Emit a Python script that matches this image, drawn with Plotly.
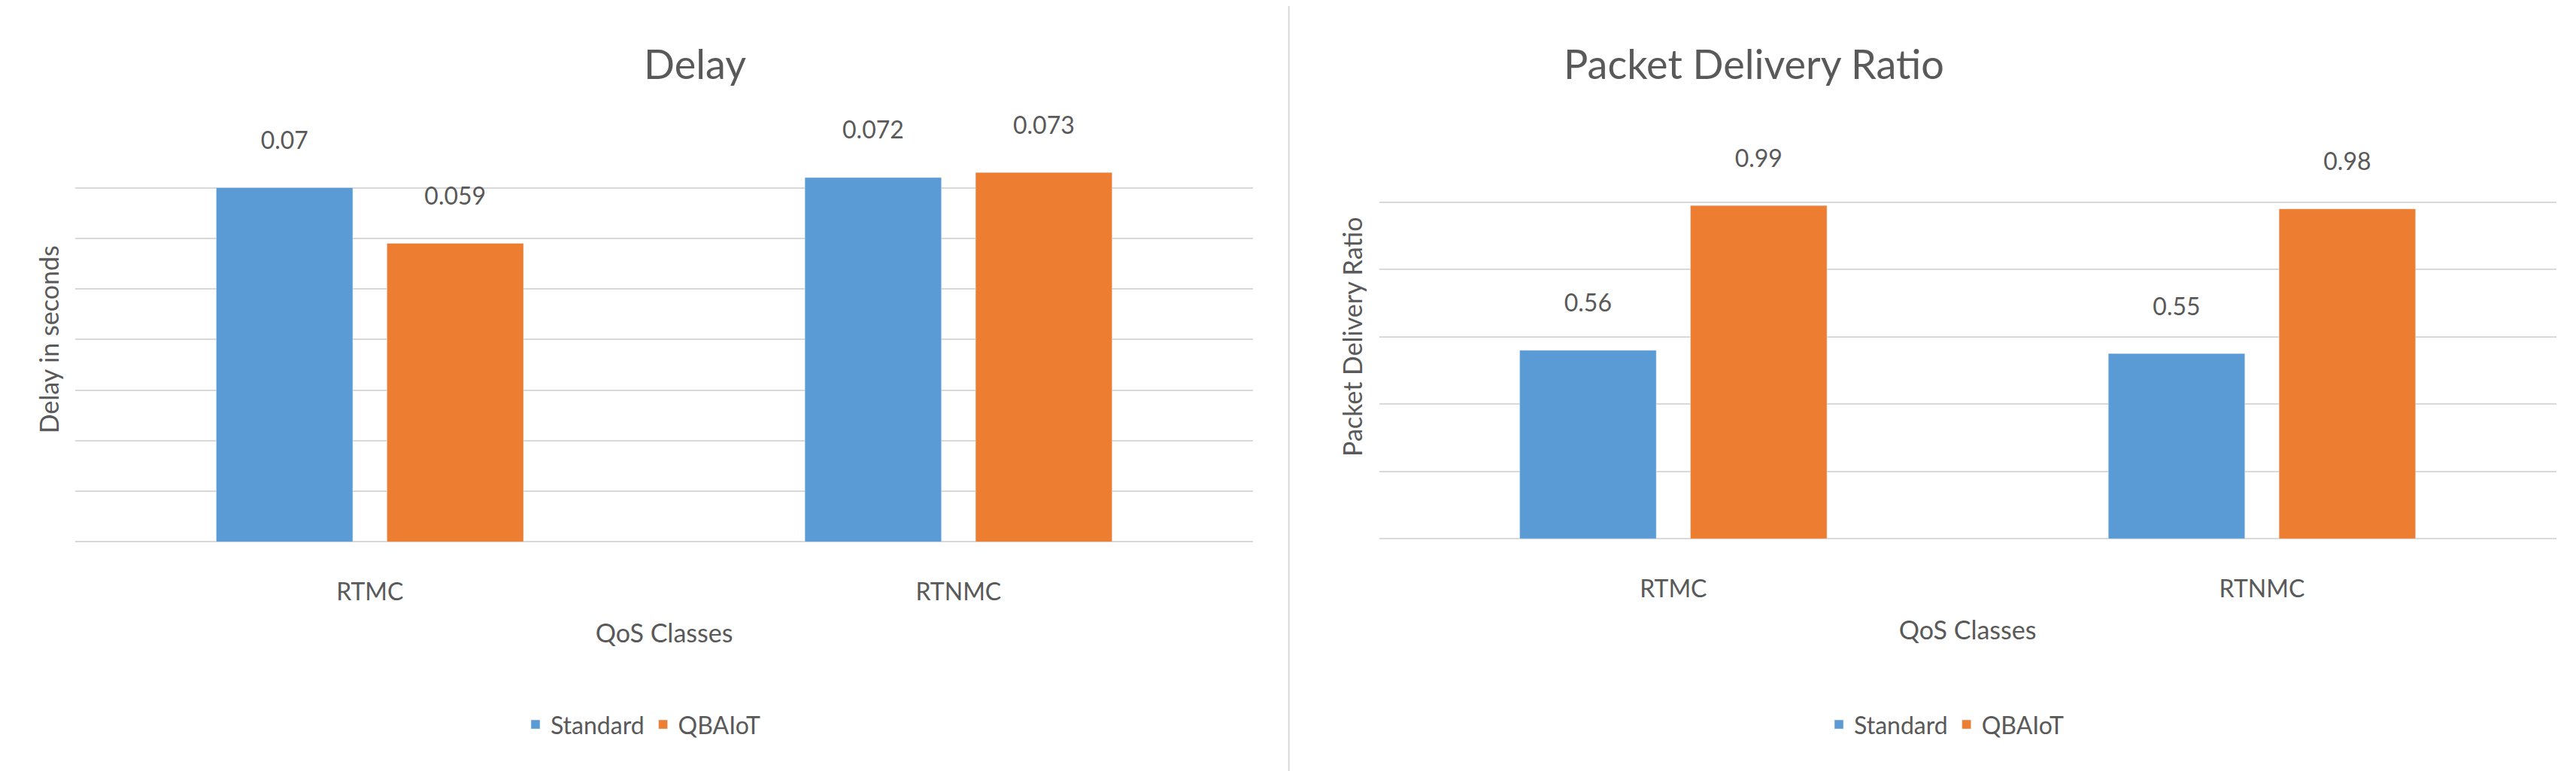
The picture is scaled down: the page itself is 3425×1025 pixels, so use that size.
import plotly.graph_objects as go

categories = ["RTMC", "RTNMC"]
delay_standard = [0.070, 0.072]
delay_qbaiot = [0.059, 0.073]
pdr_standard = [0.56, 0.55]
pdr_qbaiot = [0.99, 0.98]
delay_labels_std = ["0.07", "0.072"]
delay_labels_qb = ["0.059", "0.073"]
pdr_labels_std = ["0.56", "0.55"]
pdr_labels_qb = ["0.99", "0.98"]

BLUE = "#5B9BD5"
ORANGE = "#ED7D31"
TXT = "#595959"
FONT = "Lato"

fig = go.Figure()
def add(x, y, labels, name, color, xa, ya, lg):
    fig.add_trace(go.Bar(x=x, y=y, name=name, marker_color=color,
                         text=[l + "<br> " for l in labels],
                         textposition="outside", cliponaxis=False,
                         textfont=dict(size=32, color=TXT, family=FONT),
                         xaxis=xa, yaxis=ya, legend=lg))

add(categories, delay_standard, delay_labels_std, "Standard", BLUE, "x", "y", "legend")
add(categories, delay_qbaiot, delay_labels_qb, "QBAIoT", ORANGE, "x", "y", "legend")
add(categories, pdr_standard, pdr_labels_std, "Standard", BLUE, "x2", "y2", "legend2")
add(categories, pdr_qbaiot, pdr_labels_qb, "QBAIoT", ORANGE, "x2", "y2", "legend2")

ax = dict(showgrid=False, showline=False, ticks="", ticklabelstandoff=45,
          tickfont=dict(size=32, color=TXT, family=FONT),
          title=dict(text="QoS Classes", font=dict(size=34, color=TXT, family=FONT), standoff=25))
ay = dict(showgrid=True, gridcolor="#D9D9D9", gridwidth=2, zeroline=True, zerolinecolor="#D9D9D9",
          zerolinewidth=2, showticklabels=False, ticks="")

fig.update_layout(
    width=3425, height=1025, margin=dict(l=0, r=0, t=0, b=0),
    paper_bgcolor="white", plot_bgcolor="white",
    barmode="group", bargap=0.42, bargroupgap=0.2,
    font=dict(family=FONT, color=TXT),
    xaxis=dict(domain=[0.027, 0.484], anchor="y", **ax),
    yaxis=dict(domain=[0.305, 0.830], anchor="x", range=[0, 0.08], dtick=0.01,
               title=dict(text="Delay in seconds", font=dict(size=34, color=TXT, family=FONT), standoff=10), **ay),
    xaxis2=dict(domain=[0.533, 0.990], anchor="y2", **ax),
    yaxis2=dict(domain=[0.309, 0.833], anchor="x2", range=[0, 1.2], dtick=0.2,
                title=dict(text="Packet Delivery Ratio", font=dict(size=34, color=TXT, family=FONT), standoff=10), **ay),
    legend=dict(orientation="h", x=0.247, xanchor="center", y=0.068, yanchor="middle",
                font=dict(size=32, color=TXT, family=FONT)),
    legend2=dict(orientation="h", x=0.753, xanchor="center", y=0.068, yanchor="middle",
                 font=dict(size=32, color=TXT, family=FONT)),
    annotations=[
        dict(text="Delay", x=0.247, y=0.925, xref="paper", yref="paper", showarrow=False,
             yanchor="middle", font=dict(size=54, color=TXT, family=FONT)),
        dict(text="Packet Delivery Ratio", x=0.753, y=0.925, xref="paper", yref="paper", showarrow=False,
             yanchor="middle", font=dict(size=54, color=TXT, family=FONT)),
    ],
    shapes=[dict(type="line", xref="paper", yref="paper", x0=0.498, x1=0.498, y0=0, y1=1,
                 line=dict(color="#D9D9D9", width=2))],
)
fig.write_html("out.html")
